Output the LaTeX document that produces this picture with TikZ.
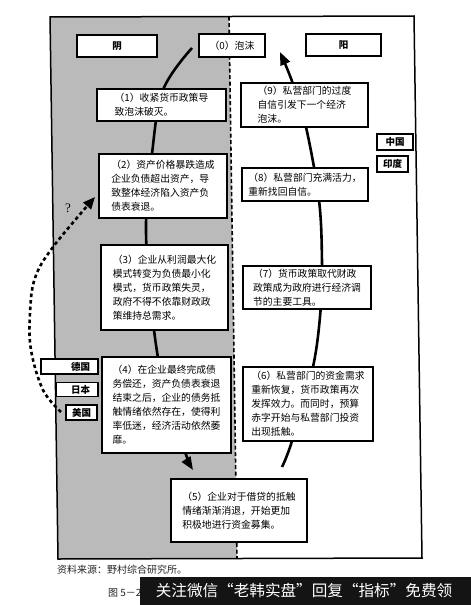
\documentclass[tikz,border=0pt]{standalone}
\usepackage{fontspec}
\setmainfont{Noto Sans CJK SC}
\newfontfamily\qfont{Liberation Serif}
\usetikzlibrary{arrows.meta}
\begin{document}
\begin{tikzpicture}[x=1pt,y=-1pt,
  box/.style={draw=black, line width=1.1pt, fill=white, inner sep=0pt},
  txt/.style={box, align=left, font=\fontsize{9.8}{14}\selectfont},
  lab/.style={box, font=\fontsize{9.5}{11}\selectfont\bfseries},
  flow/.style={line width=2.6pt, -{Triangle[length=13pt,width=10pt]}},
  dflow/.style={line width=2.6pt, dash pattern=on 3.5pt off 3pt, -{Triangle[length=12pt,width=10pt]}},
  divider/.style={line width=1.6pt, dash pattern=on 4pt off 2.5pt},
  frame/.style={line width=1.5pt}
]
\useasboundingbox (0,0) rectangle (471,605);
\fill[white] (0,0) rectangle (471,605);
% frame corners
\coordinate (TL) at (50,17);
\coordinate (TM) at (229,16.6);
\coordinate (TR) at (414,16);
\coordinate (BR) at (422,558);
\coordinate (BM) at (237,558.6);
\coordinate (BL) at (58,559);
\fill[black!27] (TL) -- (TM) -- (BM) -- (BL) -- cycle;
\draw[frame] (TL) -- (TR) -- (BR) -- (BL) -- cycle;
\draw[divider] (TM) -- (BM);

% curves (drawn below the boxes)
\coordinate (L0) at (192,48);
\coordinate (L7) at (193,470);
\draw[flow] plot[smooth, tension=0.6] coordinates {(L0) (163,90) (152,154) (146,232) (154,330) (166,395) (185,452) (L7)};
\coordinate (R0) at (282,467);
\coordinate (R7) at (280,52);
\draw[flow] plot[smooth, tension=0.6] coordinates {(R0) (292,441) (313,367) (321,305) (322,262) (319,200) (306,127) (293,84) (R7)};

% header boxes
\node[lab, minimum width=80pt, minimum height=22pt] (yin) at (117,46) {阴};
\node[box, minimum width=66pt, minimum height=23pt, font=\fontsize{9.8}{11}\selectfont] (n0) at (232,45.5) {（0）泡沫};
\node[lab, minimum width=75pt, minimum height=22pt] (yang) at (343.5,45) {阳};

% left column
\node[txt, minimum width=129pt, minimum height=32pt] (n1) at (161.5,105) {（1）收紧货币政策导\\致泡沫破灭。};
\node[txt, minimum width=128pt, minimum height=64pt] (n2) at (163,186) {（2）资产价格暴跌造成\\企业负债超出资产，导\\致整体经济陷入资产负\\债表衰退。};
\node[txt, minimum width=127pt, minimum height=85pt] (n3) at (164.5,287.5) {（3）企业从利润最大化\\模式转变为负债最小化\\模式，货币政策失灵，\\政府不得不依靠财政政\\策维持总需求。};
\node[txt, minimum width=129pt, minimum height=96pt] (n4) at (166.5,405) {（4）在企业最终完成债\\务偿还，资产负债表衰退\\结束之后，企业的债务抵\\触情绪依然存在，使得利\\率低迷，经济活动依然萎\\靡。};
\node[txt, minimum width=136pt, minimum height=63pt] (n5) at (239,510.5) {（5）企业对于借贷的抵触\\情绪渐渐消退，开始更加\\积极地进行资金募集。};

% right column
\node[txt, minimum width=130pt, minimum height=74pt] (n6) at (308,404) {（6）私营部门的资金需求\\重新恢复，货币政策再次\\发挥效力。而同时，预算\\赤字开始与私营部门投资\\出现抵触。};
\node[txt, minimum width=128pt, minimum height=43pt] (n7) at (307,287.5) {（7）货币政策取代财政\\政策成为政府进行经济调\\节的主要工具。};
\node[txt, minimum width=126pt, minimum height=33pt] (n8) at (305,184.5) {（8）私营部门充满活力，\\重新找回自信。};
\node[txt, minimum width=127pt, minimum height=44pt] (n9) at (304.5,105) {（9）私营部门的过度\\自信引发下一个经济\\泡沫。};

% country boxes
\node[lab, minimum width=36pt, minimum height=16pt] (cn) at (395,142) {中国};
\node[lab, minimum width=31pt, minimum height=16pt] (ind) at (392.5,164) {印度};
\node[box, minimum width=57pt, minimum height=15pt] (de) at (69.5,366.5) {};
\node[font=\fontsize{9.5}{11}\selectfont\bfseries, inner sep=0pt] (det) at (80.5,366.5) {德国};
\node[box, minimum width=42pt, minimum height=14pt] (jp) at (77,389.5) {};
\node[font=\fontsize{9.5}{11}\selectfont\bfseries, inner sep=0pt] (jpt) at (80.5,389.5) {日本};
\node[lab, minimum width=31pt, minimum height=15pt] (us) at (81.5,412.5) {美国};

% dashed arrow from the countries back to (2)
\coordinate (D0) at (61,412);
\coordinate (D6) at (95,197);
\draw[dflow] plot[smooth, tension=0.6] coordinates {(D0) (43,390) (31,350) (30,313) (35,278) (53,247) (D6)};
\node[font=\qfont\fontsize{13}{13}\selectfont, inner sep=0pt] (q) at (68,208) {?};

% caption
\node[anchor=west, inner sep=0pt, text=black!85, font=\fontsize{10}{12}\selectfont] (src) at (57,570) {资料来源：野村综合研究所。};
\node[anchor=west, inner sep=0pt, text=black!85, font=\fontsize{10}{12}\selectfont] (fig) at (108,593) {图 5－2};
\fill[black!92] (140,577) rectangle (471,605);
\node[text=white, inner sep=0pt, font=\fontsize{15.6}{18}\selectfont] (wm) at (304,591) {关注微信“老韩实盘”回复“指标”免费领};
\end{tikzpicture}
\end{document}
